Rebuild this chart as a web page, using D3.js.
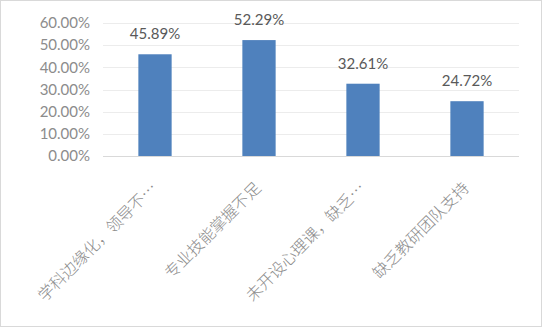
<!DOCTYPE html>
<html>
<head>
<meta charset="utf-8">
<script src="https://cdn.jsdelivr.net/npm/d3@7"></script>
<style>
  body { margin: 0; background: #fff; }
  svg { display: block; }
</style>
</head>
<body>
<svg></svg>
<script>
// chart data
let categories = ['学科边缘化，领导不…', '专业技能掌握不足', '未开设心理课，缺乏…', '缺乏教研团队支持']
let values = [45.89, 52.29, 32.61, 24.72]
let yTicks = [0, 10, 20, 30, 40, 50, 60]

let width = 542
let height = 327
let plotLeft = 103
let plotRight = 519
let plotTop = 23
let plotBottom = 156

let svg = d3.select('svg')
    .attr('width', width)
    .attr('height', height)

// outer frame
svg.append('rect')
    .attr('x', 0.5).attr('y', 0.5)
    .attr('width', width - 1).attr('height', height - 1)
    .attr('fill', '#fff')
    .attr('stroke', '#d9d9d9')

let xScale = d3.scaleBand()
    .domain(categories)
    .range([plotLeft, plotRight])
    .paddingInner(0.68)
    .paddingOuter(0.34)

let yScale = d3.scaleLinear()
    .domain([0, 60])
    .range([plotBottom, plotTop])

// gridlines
svg.append('g')
    .selectAll('line')
    .data(yTicks)
    .enter()
    .append('line')
    .attr('x1', plotLeft)
    .attr('x2', plotRight)
    .attr('y1', (d) => Math.round(yScale(d)) + 0.5)
    .attr('y2', (d) => Math.round(yScale(d)) + 0.5)
    .attr('stroke', (d) => d == 0 ? '#d9d9d9' : '#ececec')
    .attr('stroke-width', 1)

// y axis labels
let yAxis = d3.axisLeft(yScale)
    .tickValues(yTicks)
    .tickFormat((d) => d.toFixed(2) + '%')
    .tickSize(0)
    .tickPadding(0)

let yg = svg.append('g')
    .attr('transform', 'translate(90, 0)')
    .call(yAxis)
yg.select('.domain').remove()
yg.selectAll('text')
    .attr('fill', '#8c8c8c')
    .style('font-family', 'Lato, "Liberation Sans", sans-serif')
    .style('font-size', '15px')

// bars
svg.selectAll('.bar')
    .data(values)
    .enter()
    .append('rect')
    .attr('class', 'bar')
    .attr('x', (d, i) => xScale(categories[i]))
    .attr('y', (d) => yScale(d))
    .attr('width', xScale.bandwidth())
    .attr('height', (d) => yScale(0) - yScale(d))
    .attr('fill', '#4f81bd')

// value labels
svg.selectAll('.val')
    .data(values)
    .enter()
    .append('text')
    .attr('class', 'val')
    .attr('x', (d, i) => xScale(categories[i]) + xScale.bandwidth() / 2)
    .attr('y', (d) => yScale(d) - 15)
    .attr('text-anchor', 'middle')
    .attr('fill', '#595959')
    .style('font-family', 'Lato, "Liberation Sans", sans-serif')
    .style('font-size', '15px')
    .text((d) => d.toFixed(2) + '%')

// category labels, rotated
svg.selectAll('.cat')
    .data(categories)
    .enter()
    .append('text')
    .attr('class', 'cat')
    .attr('transform', (d) => {
        let cx = xScale(d) + xScale.bandwidth() / 2 + 3
        return 'translate(' + cx + ', 189) rotate(-45)'
    })
    .attr('text-anchor', 'end')
    .attr('fill', '#8c8c8c')
    .style('font-family', '"Noto Sans CJK SC", sans-serif')
    .style('font-weight', '300')
    .style('font-size', '16px')
    .text((d) => d)
</script>
</body>
</html>
